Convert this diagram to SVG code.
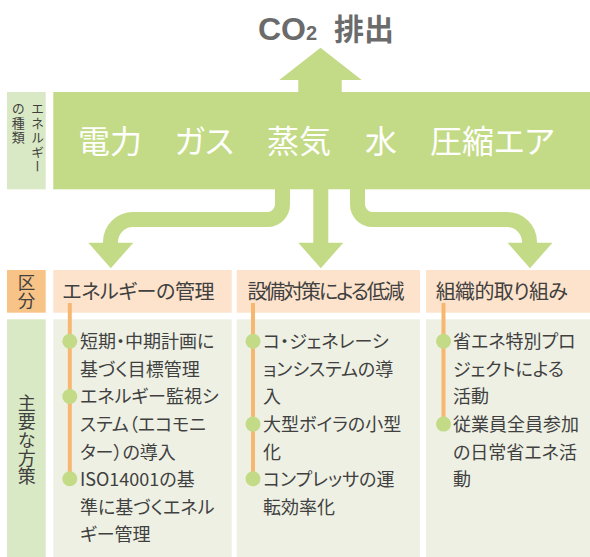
<svg xmlns="http://www.w3.org/2000/svg" xmlns:xlink="http://www.w3.org/1999/xlink" width="590" height="557" viewBox="0 0 590 557">
<defs>
<style>
.jp{font-family:"Noto Sans CJK JP","Noto Sans",sans-serif;font-feature-settings:"palt";}
.band{fill:#c3db86;}
.lbl{fill:#d9e9c5;}
.org{fill:#f8c386;}
.peach{fill:#fde3cb;}
.body{fill:#eef0e4;}
.txt{fill:#404040;}
.wt{fill:#ffffff;font-size:32px;}
.hd{font-size:20px;}
.bt{font-size:18px;}
.conn{fill:none;stroke:#c3db86;stroke-width:15;stroke-linecap:butt;stroke-linejoin:round;}
.ol{stroke:#f6b871;stroke-width:4;}
.dot{fill:#c3db86;}
.vt{font-size:13px;writing-mode:vertical-rl;letter-spacing:1.5px;}
.vb{writing-mode:vertical-rl;}
</style>
<path id="ah" d="M0,0 L-22.5,-25.6 L22.5,-25.6 Z" fill="#c3db86"/>
</defs>
<rect width="590" height="557" fill="#ffffff"/>

<g id="title">
<text x="258" y="39.5" fill="#6b6b6b" font-weight="bold" font-family="'Liberation Sans','Noto Sans CJK JP',sans-serif" font-size="32">CO<tspan font-size="20">2</tspan></text>
<text x="334" y="39.5" class="jp" fill="#6b6b6b" font-weight="bold" font-size="30">排出</text>
</g>

<g id="co2-arrow">
<polygon points="320.5,47.7 361.7,80 341.7,80 341.7,93 298.3,93 298.3,80 279.3,80" class="band"/>
</g>

<g id="energy-label">
<rect x="7" y="92" width="38.7" height="97.3" class="lbl"/>
<text x="37.5" y="102" class="jp txt vt">エネルギー</text>
<text x="18.3" y="102" class="jp txt vt">の種類</text>
</g>

<g id="energy">
<rect x="53.3" y="92" width="536.7" height="97.3" class="band"/>
<text x="78" y="152.5" class="jp wt">電力</text>
<text x="174.5" y="152.5" class="jp wt">ガス</text>
<text x="267" y="152.5" class="jp wt">蒸気</text>
<text x="365" y="152.5" class="jp wt">水</text>
<text x="430" y="152.5" class="jp wt">圧縮エア</text>
</g>

<g id="connectors">
<path class="conn" d="M282.5,188 V204.5 A15,15 0 0 1 267.5,219.5 H133 A22.5,22.5 0 0 0 110.5,242 V243.5"/>
<path class="conn" d="M320.8,188 V243.5"/>
<path class="conn" d="M357.5,188 V204.5 A15,15 0 0 0 372.5,219.5 H507 A22.5,22.5 0 0 1 529.5,242 V243.5"/>
<use xlink:href="#ah" x="110.8" y="268.3"/>
<use xlink:href="#ah" x="320.8" y="268.3"/>
<use xlink:href="#ah" x="530" y="268.3"/>
</g>

<g id="kubun-label">
<rect x="7" y="270" width="38.7" height="42.7" class="org"/>
<text x="26.5" y="274" class="jp txt vb" font-size="17.5">区分</text>
</g>

<g id="measures-label">
<rect x="7" y="319.3" width="38.7" height="237.7" class="lbl"/>
<text x="26.7" y="394" class="jp txt vb" font-size="18" letter-spacing="0.4">主要な方策</text>
</g>

<g id="col-energy-management">
<rect x="53.3" y="270" width="178.4" height="42.7" class="peach"/>
<rect x="53.3" y="319.3" width="178.4" height="237.7" class="body"/>
<text x="62.5" y="299.3" class="jp txt hd" textLength="152">エネルギーの管理</text>
<line x1="69.8" y1="303" x2="69.8" y2="478.8" class="ol"/>
<circle cx="69.8" cy="341.3" r="7.5" class="dot"/>
<circle cx="69.8" cy="396.5" r="7.5" class="dot"/>
<circle cx="69.8" cy="478.8" r="7.5" class="dot"/>
<g class="jp txt bt">
<text x="80" y="348.1">短期・中期計画に</text>
<text x="80" y="375.7">基づく目標管理</text>
<text x="80" y="403.3">エネルギー監視シ</text>
<text x="80" y="430.9">ステム（エコモニ</text>
<text x="80" y="458.5">ター）の導入</text>
<text x="80" y="486.1">ISO14001の基</text>
<text x="80" y="513.7">準に基づくエネル</text>
<text x="80" y="541.3">ギー管理</text>
</g>
</g>

<g id="col-equipment">
<rect x="236.7" y="270" width="183.3" height="42.7" class="peach"/>
<rect x="236.7" y="319.3" width="183.3" height="237.7" class="body"/>
<text x="247.5" y="299.3" class="jp txt hd" textLength="157">設備対策による低減</text>
<line x1="253" y1="303" x2="253" y2="478.8" class="ol"/>
<circle cx="253" cy="341.3" r="7.5" class="dot"/>
<circle cx="253" cy="424.1" r="7.5" class="dot"/>
<circle cx="253" cy="478.8" r="7.5" class="dot"/>
<g class="jp txt bt">
<text x="263" y="348.1">コ・ジェネレーシ</text>
<text x="263" y="375.7">ョンシステムの導</text>
<text x="263" y="403.3">入</text>
<text x="263" y="430.9">大型ボイラの小型</text>
<text x="263" y="458.5">化</text>
<text x="263" y="486.1">コンプレッサの運</text>
<text x="263" y="513.7">転効率化</text>
</g>
</g>

<g id="col-organization">
<rect x="426" y="270" width="164" height="42.7" class="peach"/>
<rect x="426" y="319.3" width="164" height="237.7" class="body"/>
<text x="435.8" y="299.3" class="jp txt hd" textLength="132">組織的取り組み</text>
<line x1="443.5" y1="303" x2="443.5" y2="424.1" class="ol"/>
<circle cx="443.5" cy="341.3" r="7.5" class="dot"/>
<circle cx="443.5" cy="424.1" r="7.5" class="dot"/>
<g class="jp txt bt">
<text x="453" y="348.1">省エネ特別プロ</text>
<text x="453" y="375.7">ジェクトによる</text>
<text x="453" y="403.3">活動</text>
<text x="453" y="430.9">従業員全員参加</text>
<text x="453" y="458.5">の日常省エネ活</text>
<text x="453" y="486.1">動</text>
</g>
</g>
</svg>
